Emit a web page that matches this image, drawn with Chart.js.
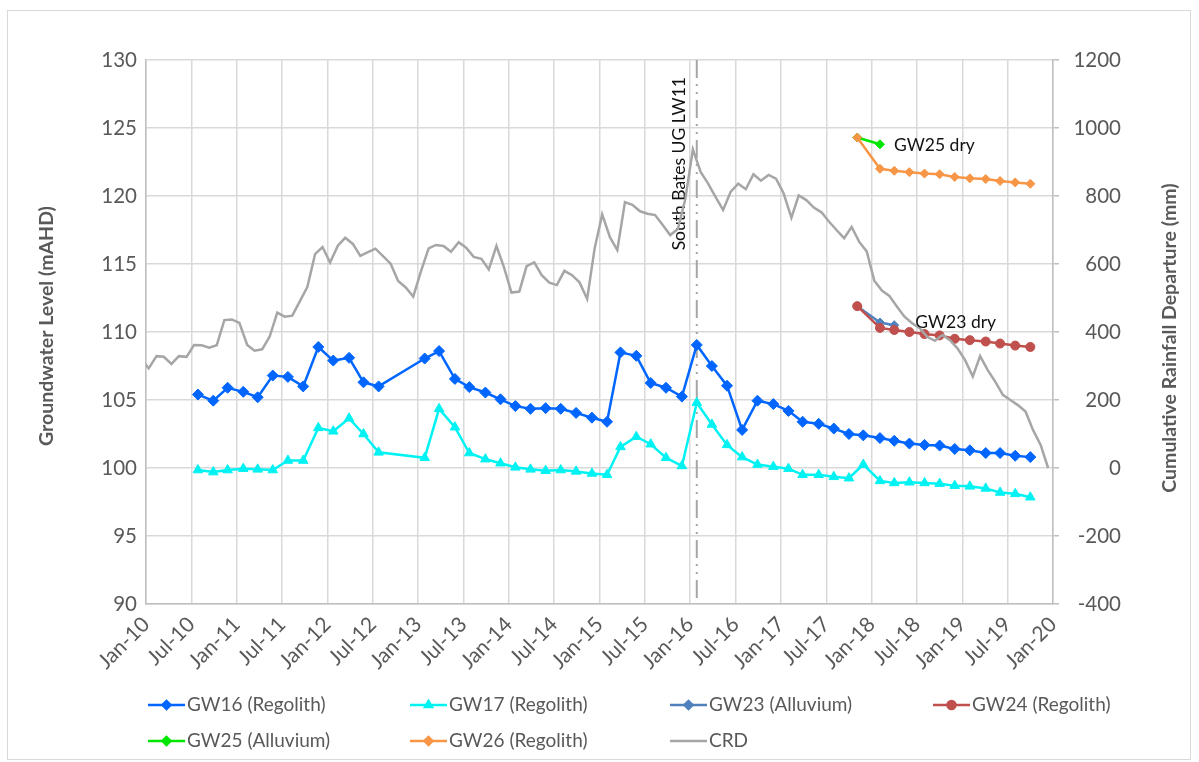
<!DOCTYPE html>
<html>
<head>
<meta charset="utf-8">
<script src="https://cdn.jsdelivr.net/npm/chart.js@4.4.1/dist/chart.umd.min.js"></script>
<style>
  html, body { margin: 0; padding: 0; background: #fff; }
  #wrap { position: relative; width: 1199px; height: 762px; }
  canvas { display: block; }
</style>
</head>
<body>
<div id="wrap"><canvas id="chart" width="1199" height="762"></canvas></div>
<script>
// ---- data ----------------------------------------------------------------
const X_TICK_LABELS = ['Jan-10','Jul-10','Jan-11','Jul-11','Jan-12','Jul-12','Jan-13','Jul-13',
  'Jan-14','Jul-14','Jan-15','Jul-15','Jan-16','Jul-16','Jan-17','Jul-17','Jan-18','Jul-18',
  'Jan-19','Jul-19','Jan-20'];

// sampling dates for the long-running bores GW16 / GW17
const GW_DATES = ['2010-07-28','2010-09-28','2010-11-25','2011-01-28','2011-03-25','2011-05-25',
  '2011-07-25','2011-09-25','2011-11-25','2012-01-25','2012-03-28','2012-05-25','2012-07-25',
  '2013-01-28','2013-03-25','2013-05-28','2013-07-25','2013-09-28','2013-11-28','2014-01-28',
  '2014-03-28','2014-05-28','2014-07-28','2014-09-28','2014-12-01','2015-02-01','2015-03-25',
  '2015-05-28','2015-07-25','2015-09-25','2015-11-28','2016-01-28','2016-03-28','2016-05-28',
  '2016-07-28','2016-09-28','2016-12-01','2017-02-01','2017-03-28','2017-06-01','2017-08-01',
  '2017-10-01','2017-11-28','2018-02-04','2018-04-01','2018-06-01','2018-08-01','2018-10-01',
  '2018-12-01','2019-02-01','2019-04-04','2019-06-01','2019-08-01','2019-10-01'];

const GW16 = [105.4, 104.95, 105.9, 105.6, 105.2, 106.8, 106.7, 106.0, 108.9, 107.9,
  108.1, 106.3, 106.0, 108.05, 108.6, 106.55, 105.95, 105.55, 105.05, 104.55,
  104.35, 104.4, 104.35, 104.05, 103.7, 103.4, 108.5, 108.25, 106.25, 105.9,
  105.25, 109.05, 107.5, 106.05, 102.8, 104.95, 104.7, 104.2, 103.4, 103.25,
  102.9, 102.5, 102.4, 102.2, 102.0, 101.8, 101.7, 101.65, 101.4, 101.3,
  101.1, 101.1, 100.9, 100.8];

const GW17 = [99.85, 99.7, 99.85, 99.95, 99.9, 99.85, 100.55, 100.55, 102.95, 102.7,
  103.65, 102.5, 101.15, 100.75, 104.35, 103.0, 101.1, 100.65, 100.35, 100.05,
  99.9, 99.8, 99.85, 99.75, 99.6, 99.5, 101.55, 102.3, 101.75, 100.75,
  100.15, 104.8, 103.2, 101.7, 100.8, 100.25, 100.1, 99.95, 99.5, 99.5,
  99.35, 99.25, 100.25, 99.05, 98.9, 98.95, 98.9, 98.85, 98.7, 98.65,
  98.5, 98.2, 98.1, 97.85];

// sampling dates for the bores installed late 2017
const NEW_DATES = ['2017-11-04','2018-02-04','2018-04-01','2018-06-01','2018-08-01','2018-10-01',
  '2018-12-01','2019-02-01','2019-04-04','2019-06-01','2019-08-01','2019-10-01'];

const GW23 = [111.9, 110.7, 110.5];
const GW24 = [111.9, 110.3, 110.15, 110.0, 109.85, 109.75, 109.5, 109.4, 109.3, 109.15, 109.0, 108.9];
const GW25 = [124.3, 123.8];
const GW26 = [124.3, 122.0, 121.85, 121.75, 121.65, 121.6, 121.4, 121.3, 121.25, 121.1, 121.0, 120.9];

// cumulative rainfall departure (mm), monthly from Dec 2009 to Dec 2019
const CRD_START = [2009, 12];
const CRD = [323,
  293, 329, 327, 306, 329, 327, 362, 361, 354, 361, 435, 437,
  427, 362, 345, 349, 386, 457, 445, 448, 491, 533, 629, 650,
  604, 654, 677, 659, 624, 635, 645, 623, 601, 550, 531, 504,
  577, 646, 656, 653, 636, 664, 648, 621, 615, 584, 653, 591,
  516, 519, 594, 605, 567, 545, 538, 580, 567, 546, 497, 646,
  746, 678, 641, 782, 774, 755, 748, 744, 715, 685, 703, 791,
  937, 871, 837, 797, 759, 813, 836, 820, 864, 845, 862, 851,
  808, 736, 802, 788, 766, 752, 725, 700, 676, 709, 665, 637,
  551, 521, 506, 474, 445, 426, 411, 386, 374, 391, 376, 352,
  318, 269, 329, 288, 254, 215, 200, 185, 166, 112, 68, 0];

const LW11_DATE = '2016-01-28';
const LW11_LABEL = 'South Bates UG LW11';

// ---- helpers ---------------------------------------------------------------
// months elapsed since 1 Jan 2010
function toMonths(s) {
  const [y, m, d] = s.split('-').map(Number);
  const dim = new Date(y, m, 0).getDate();
  return (y - 2010) * 12 + (m - 1) + (d - 1) / dim;
}
function series(dates, values) {
  return values.map((v, i) => ({ x: toMonths(dates[i]), y: v }));
}
const crdDates = CRD.map((_, i) => {
  const t = CRD_START[0] * 12 + (CRD_START[1] - 1) + i;
  const y = Math.floor(t / 12), m = (t % 12) + 1;
  return `${y}-${String(m).padStart(2, '0')}-12`;
});

const FONT = 'Lato';
const GREY_TEXT = '#595959';
const NOTE_TEXT = '#111111';

function ds(label, data, color, style, radius, order, extra) {
  return Object.assign({
    label, data, order,
    borderColor: color, backgroundColor: color,
    pointBackgroundColor: color, pointBorderColor: color,
    borderWidth: 2.5, pointStyle: style, pointRadius: radius, pointBorderWidth: 1,
    pointHoverRadius: radius, tension: 0, yAxisID: 'y'
  }, extra || {});
}

const datasets = [
  ds('GW16 (Regolith)', series(GW_DATES, GW16), '#0066ff', 'rectRot', 5.5, 7),
  ds('GW17 (Regolith)', series(GW_DATES, GW17), '#00f2f2', 'triangle', 5.5, 6),
  ds('GW23 (Alluvium)', series(NEW_DATES, GW23), '#4f81bd', 'rectRot', 4.5, 5),
  ds('GW24 (Regolith)', series(NEW_DATES, GW24), '#c0504d', 'circle', 4.5, 4),
  ds('GW25 (Alluvium)', series(NEW_DATES, GW25), '#00e600', 'rectRot', 4.5, 3),
  ds('GW26 (Regolith)', series(NEW_DATES, GW26), '#f79646', 'rectRot', 4.5, 2),
  ds('CRD', series(crdDates, CRD), '#a6a6a6', false, 0, 1, { yAxisID: 'y2', borderWidth: 2.5 })
];

// ---- plugins ----------------------------------------------------------------
const frame = {
  id: 'frame',
  beforeDraw(chart) {
    const c = chart.ctx;
    c.save();
    c.fillStyle = '#fff';
    c.fillRect(0, 0, chart.width, chart.height);
    c.strokeStyle = '#d9d9d9';
    c.lineWidth = 1;
    c.strokeRect(7.5, 10.5, 1183, 749);
    c.restore();
  }
};

const eventLine = {
  id: 'eventLine',
  beforeDatasetsDraw(chart) {
    const { ctx: c, chartArea: a, scales } = chart;
    const px = scales.x.getPixelForValue(toMonths(LW11_DATE));
    c.save();
    c.strokeStyle = '#a6a6a6';
    c.lineWidth = 2;
    c.setLineDash([18, 6, 2, 6, 2, 6]);
    c.beginPath();
    c.moveTo(px, a.top);
    c.lineTo(px, a.bottom);
    c.stroke();
    c.setLineDash([]);
    c.translate(px - 17, a.top + 17);
    c.rotate(-Math.PI / 2);
    c.fillStyle = NOTE_TEXT;
    c.font = `17.5px ${FONT}`;
    c.textAlign = 'right';
    c.textBaseline = 'middle';
    c.fillText(LW11_LABEL, 0, 0);
    c.restore();
  }
};

const notes = {
  id: 'notes',
  afterDatasetsDraw(chart) {
    const c = chart.ctx;
    const last = (i) => {
      const pts = chart.getDatasetMeta(i).data;
      return pts[pts.length - 1];
    };
    c.save();
    c.fillStyle = NOTE_TEXT;
    c.font = `17.5px ${FONT}`;
    c.textAlign = 'left';
    c.textBaseline = 'middle';
    const p25 = last(4);
    c.fillText('GW25 dry', p25.x + 14, p25.y + 1);
    const p23 = last(2);
    c.fillText('GW23 dry', p23.x + 21, p23.y - 3);
    c.restore();
  }
};

const titles = {
  id: 'titles',
  afterDraw(chart) {
    const c = chart.ctx;
    c.save();
    c.fillStyle = GREY_TEXT;
    c.font = `bold 19.5px ${FONT}`;
    c.textAlign = 'center';
    c.textBaseline = 'middle';
    [[47, 326, 'Groundwater Level (mAHD)'], [1170, 338, 'Cumulative Rainfall Departure (mm)']]
      .forEach(([x, y, t]) => {
        c.save();
        c.translate(x, y);
        c.rotate(-Math.PI / 2);
        c.fillText(t, 0, 0);
        c.restore();
      });
    c.restore();
  }
};

// legend laid out as a 4-column grid below the axis
const gridLegend = {
  id: 'gridLegend',
  afterDraw(chart) {
    const c = chart.ctx;
    const cols = [148, 410, 670, 933];
    const rows = [705, 741];
    const sampleLen = 37;
    c.save();
    chart.data.datasets.forEach((d, i) => {
      const x0 = cols[i % 4], y0 = rows[Math.floor(i / 4)];
      c.strokeStyle = d.borderColor;
      c.lineWidth = 2.5;
      c.beginPath();
      c.moveTo(x0, y0);
      c.lineTo(x0 + sampleLen, y0);
      c.stroke();
      if (d.pointStyle) {
        c.fillStyle = d.borderColor;
        Chart.helpers.drawPoint(c, { pointStyle: d.pointStyle, radius: 4, borderWidth: 1 },
          x0 + sampleLen / 2, y0);
        c.fill();
      }
      c.fillStyle = GREY_TEXT;
      c.font = `19px ${FONT}`;
      c.textAlign = 'left';
      c.textBaseline = 'middle';
      c.fillText(d.label, x0 + sampleLen + 2, y0);
    });
    c.restore();
  }
};

// ---- chart --------------------------------------------------------------------
Chart.defaults.font.family = FONT;
new Chart(document.getElementById('chart'), {
  type: 'line',
  data: { datasets },
  plugins: [frame, eventLine, notes, titles, gridLegend],
  options: {
    responsive: false,
    animation: false,
    devicePixelRatio: 1,
    layout: { padding: { top: 60, left: 0, right: 78, bottom: 0 } },
    plugins: { legend: { display: false }, tooltip: { enabled: false } },
    scales: {
      x: {
        type: 'linear', min: 0, max: 120,
        afterFit(s) { s.height = 158; },
        grid: { color: '#d9d9d9', lineWidth: 1.5, drawTicks: false },
        border: { display: true, color: '#bfbfbf', width: 1.5 },
        ticks: {
          stepSize: 6, autoSkip: false, minRotation: 45, maxRotation: 45, padding: 8,
          color: GREY_TEXT, font: { size: 21 },
          callback: (v) => X_TICK_LABELS[Math.round(v / 6)]
        }
      },
      y: {
        position: 'left', min: 90, max: 130,
        afterFit(s) { s.width = 146; },
        grid: { color: '#d9d9d9', lineWidth: 1.5, drawTicks: false },
        border: { display: true, color: '#bfbfbf', width: 1.5 },
        ticks: { stepSize: 5, padding: 9, crossAlign: 'near', color: GREY_TEXT, font: { size: 20.5 } }
      },
      y2: {
        position: 'right', min: -400, max: 1200,
        afterFit(s) { s.width = 68; },
        grid: { display: true, drawOnChartArea: false, drawTicks: true, tickLength: 6,
                color: '#bfbfbf', lineWidth: 1.5 },
        border: { display: true, color: '#bfbfbf', width: 1.5 },
        ticks: { stepSize: 200, padding: 8, crossAlign: 'far', color: GREY_TEXT, font: { size: 20.5 },
                 callback: (v) => String(v) }
      }
    }
  }
});
</script>
</body>
</html>
